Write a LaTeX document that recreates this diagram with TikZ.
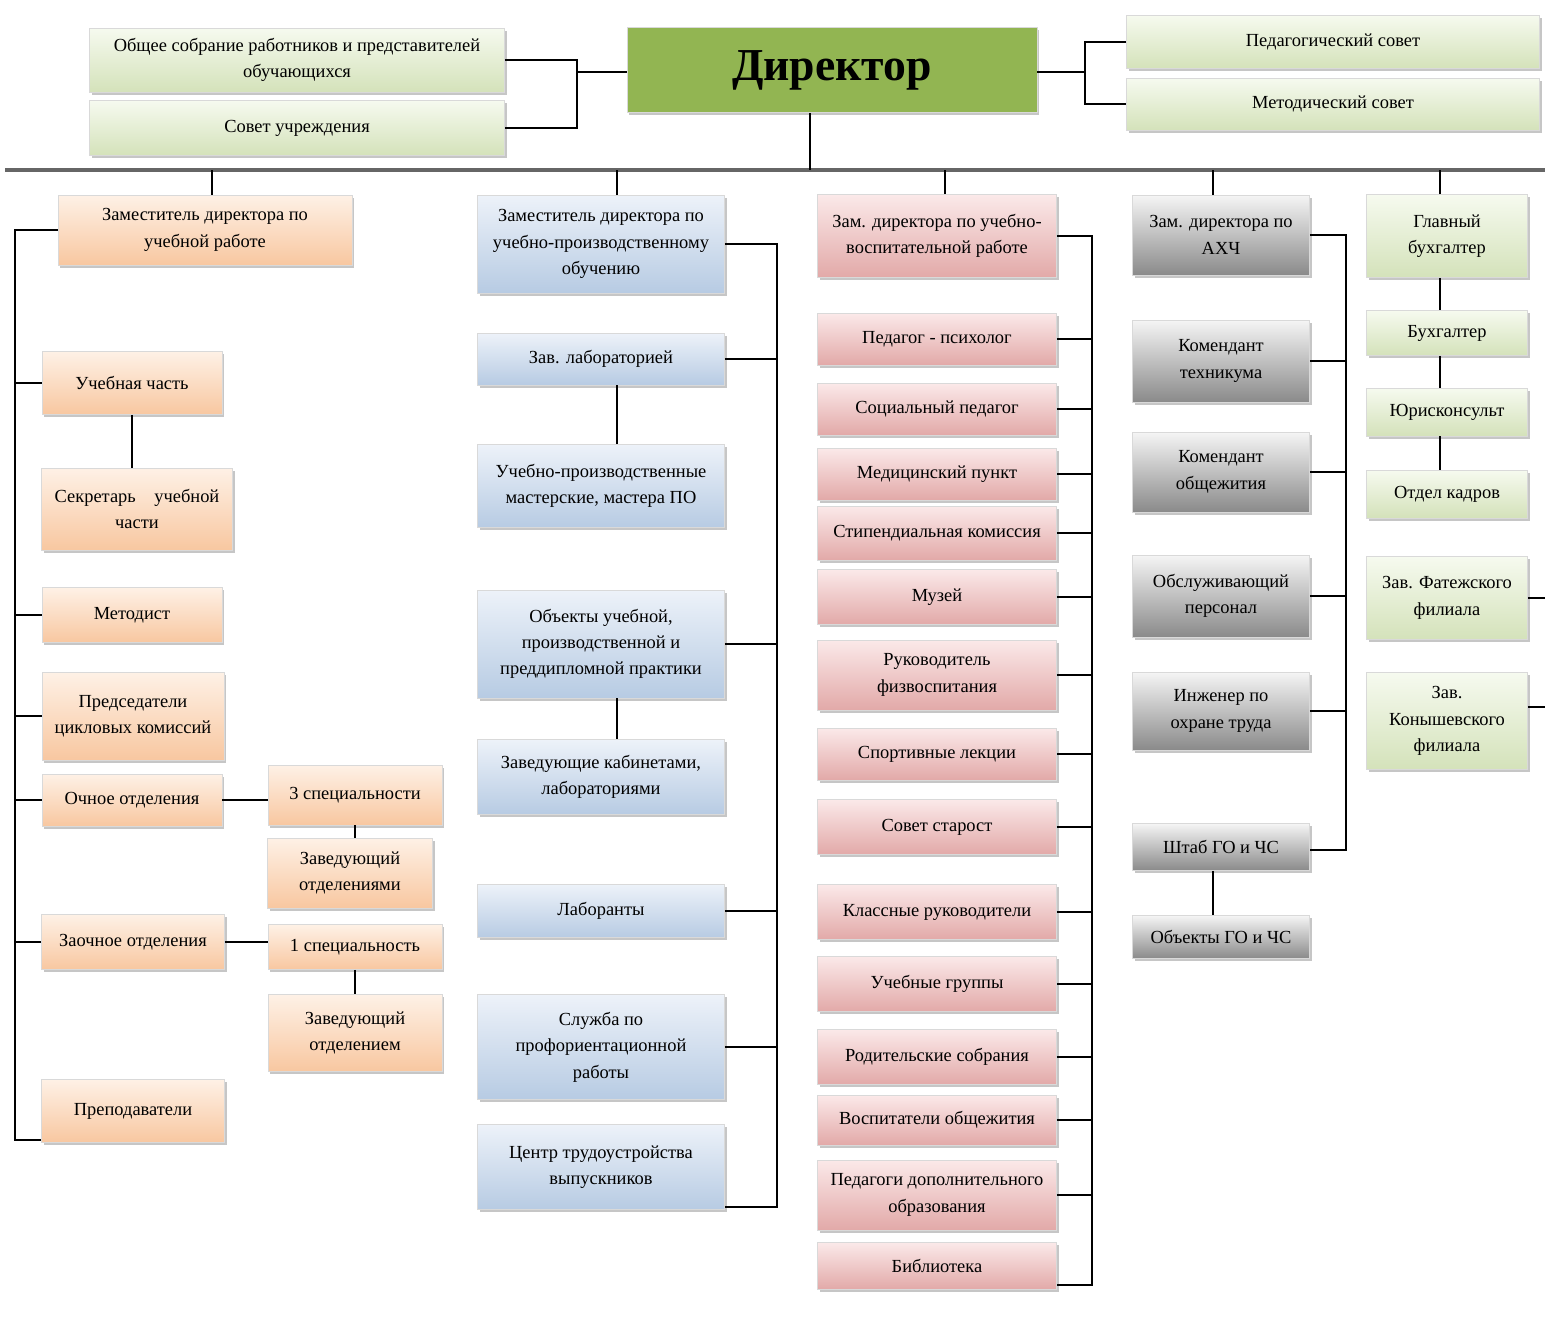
\documentclass[tikz,border=0pt]{standalone}
\usepackage{fontspec}
\setmainfont{Liberation Serif}
\usepackage{xcolor}
\usepackage{tikz}
\usetikzlibrary{shadows}

\definecolor{dirgreen}{HTML}{92B552}
\definecolor{grnT}{HTML}{F6FAEF}
\definecolor{grnB}{HTML}{D4E2BA}
\definecolor{oraT}{HTML}{FEF1E6}
\definecolor{oraB}{HTML}{F8C7A0}
\definecolor{bluT}{HTML}{EDF2F9}
\definecolor{bluB}{HTML}{B7CBE3}
\definecolor{pnkT}{HTML}{FBE9E9}
\definecolor{pnkB}{HTML}{E2A9A8}
\definecolor{gryT}{HTML}{F5F5F5}
\definecolor{gryB}{HTML}{8A8A8A}

\tikzset{
	box/.style={rectangle, draw=black!15, align=center, inner sep=2pt,
		font=\fontsize{10.5}{15}\selectfont,
		drop shadow={shadow xshift=1.2pt, shadow yshift=-1.5pt, opacity=0.45}},
	grn/.style={box, top color=grnT, bottom color=grnB},
	ora/.style={box, top color=oraT, bottom color=oraB, minimum width=3.6cm},
	blu/.style={box, top color=bluT, bottom color=bluB, minimum width=4.94cm},
	pnk/.style={box, top color=pnkT, bottom color=pnkB, minimum width=4.78cm},
	gry/.style={box, top color=gryT, bottom color=gryB, minimum width=3.54cm},
	conn/.style={draw=black, line width=0.9pt},
	busline/.style={draw=black!60, line width=2.2pt}
}

\begin{document}
\begin{tikzpicture}[x=0.02cm, y=-0.02cm]
				\useasboundingbox (0,0) rectangle (1545,1331);
				
				%Top row
				\node[grn, minimum width=8.3cm, minimum height=1.28cm] (obs) at (297,60) {Общее собрание работников и представителей\\обучающихся};
				\node[grn, minimum width=8.3cm, minimum height=1.1cm] (sov) at (297,128) {Совет учреждения};
				\node[box, fill=dirgreen, minimum width=8.2cm, minimum height=1.7cm, font=\fontsize{26}{30}\selectfont\bfseries] (dir) at (832,70) {Директор};
				\node[grn, minimum width=8.26cm, minimum height=1.06cm] (ped) at (1333,42) {Педагогический совет};
				\node[grn, minimum width=8.26cm, minimum height=1.04cm] (met) at (1333,104) {Методический совет};
				
				%Brackets
				\coordinate (lbr) at (577,72);
				\coordinate (rbr) at (1085,72);
				\draw[conn] (obs.east) -| (lbr) |- (sov.east);
				\draw[conn] (lbr) -- (lbr -| dir.west);
				\draw[conn] (rbr -| dir.east) -- (rbr);
				\draw[conn] (ped.west) -| (rbr) |- (met.west);
				
				%Bus
				\coordinate (busL) at (5,170);
				\coordinate (busR) at (1545,170);
				\draw[busline] (busL) -- (busR);
				\draw[conn] ([xshift=-0.44cm]dir.south) -- ([xshift=-0.44cm]dir.south |- busL);
				
				%Column 1
				\node[ora, minimum width=5.88cm, minimum height=1.4cm] (zur) at (205,230) {Заместитель директора по\\учебной работе};
				\node[ora, minimum height=1.26cm] (uch) at (132,383) {Учебная часть};
				\node[ora, minimum width=3.82cm, minimum height=1.64cm] (sek) at (137,509) {Секретарь\quad учебной\\части};
				\node[ora, minimum height=1.1cm] (mtd) at (132,615) {Методист};
				\node[ora, minimum width=3.64cm, minimum height=1.76cm] (pred) at (133,716) {Председатели\\цикловых комиссий};
				\node[ora, minimum height=1.04cm] (och) at (132,800) {Очное отделения};
				\node[ora, minimum width=3.48cm, minimum height=1.2cm] (sp3) at (355,795) {3 специальности};
				\node[ora, minimum width=3.3cm, minimum height=1.4cm] (zo1) at (350,873) {Заведующий\\отделениями};
				\node[ora, minimum width=3.66cm, minimum height=1.1cm] (zao) at (133,942) {Заочное отделения};
				\node[ora, minimum width=3.48cm, minimum height=0.9cm] (sp1) at (355,947) {1 специальность};
				\node[ora, minimum width=3.48cm, minimum height=1.54cm] (zo2) at (355,1033) {Заведующий\\отделением};
				\node[ora, minimum width=3.66cm, minimum height=1.26cm] (prep) at (133,1111) {Преподаватели};
				
				%Lines
				\coordinate (lt) at (15,222);
				\coordinate (lb) at (15,1140);
				\draw[conn] ([xshift=0.14cm]zur.north) -- ([xshift=0.14cm]zur.north |- busL);
				\draw[conn] (zur.west) -- (zur.west -| lt) -- (lb) -- (lb -| prep.west);
				\foreach \n in {uch,mtd,pred,och,zao}
					\draw[conn] (\n.west) -- (\n.west -| lt);
				\draw[conn] (uch.south) -- (uch.south |- sek.north);
				\draw[conn] (och.east) -- (och.east -| sp3.west);
				\draw[conn] (sp3.south) -- (sp3.south |- zo1.north);
				\draw[conn] (zao.east) -- (zao.east -| sp1.west);
				\draw[conn] (sp1.south) -- (sp1.south |- zo2.north);
				
				%Column 2
				\node[blu, minimum height=1.96cm] (zupo) at (601,244) {Заместитель директора по\\учебно-производственному\\обучению};
				\node[blu, minimum height=1.04cm] (zlab) at (601,359) {Зав. лабораторией};
				\node[blu, minimum height=1.66cm] (upm) at (601,486) {Учебно-производственные\\мастерские, мастера ПО};
				\node[blu, minimum height=2.16cm] (obj) at (601,644) {Объекты учебной,\\производственной и\\преддипломной практики};
				\node[blu, minimum height=1.5cm] (zkab) at (601,777) {Заведующие кабинетами,\\лабораториями};
				\node[blu, minimum height=1.06cm] (lab) at (601,911) {Лаборанты};
				\node[blu, minimum height=2.1cm] (sluz) at (601,1047) {Служба по\\профориентационной\\работы};
				\node[blu, minimum height=1.7cm] (cent) at (601,1167) {Центр трудоустройства\\выпускников};
				
				%Lines
				\coordinate (bt) at (777,244);
				\coordinate (bb) at (777,1207);
				\draw[conn] ([xshift=0.32cm]zupo.north) -- ([xshift=0.32cm]zupo.north |- busL);
				\draw[conn] (zupo.east) -- (bt) -- (bb) -- (bb -| cent.east);
				\foreach \n in {zlab,obj,lab,sluz}
					\draw[conn] (\n.east) -- (\n.east -| bt);
				\draw[conn] ([xshift=0.32cm]zlab.south) -- ([xshift=0.32cm]upm.north);
				\draw[conn] ([xshift=0.32cm]obj.south) -- ([xshift=0.32cm]zkab.north);
				
				%Column 3
				\node[pnk, minimum height=1.66cm] (zuvr) at (937,236) {Зам. директора по учебно-\\воспитательной работе};
				\node[pnk, minimum height=1.04cm] (psy) at (937,339) {Педагог - психолог};
				\node[pnk, minimum height=1.04cm] (soc) at (937,409) {Социальный педагог};
				\node[pnk, minimum height=1.04cm] (med) at (937,474) {Медицинский пункт};
				\node[pnk, minimum height=1.08cm] (stip) at (937,533) {Стипендиальная комиссия};
				\node[pnk, minimum height=1.1cm] (muz) at (937,597) {Музей};
				\node[pnk, minimum height=1.4cm] (fiz) at (937,675) {Руководитель\\физвоспитания};
				\node[pnk, minimum height=1.04cm] (spl) at (937,754) {Спортивные лекции};
				\node[pnk, minimum height=1.1cm] (sst) at (937,827) {Совет старост};
				\node[pnk, minimum height=1.1cm] (klr) at (937,912) {Классные руководители};
				\node[pnk, minimum height=1.1cm] (ugr) at (937,984) {Учебные группы};
				\node[pnk, minimum height=1.1cm] (rod) at (937,1057) {Родительские собрания};
				\node[pnk, minimum height=1.0cm] (vos) at (937,1120) {Воспитатели общежития};
				\node[pnk, minimum height=1.4cm] (pdo) at (937,1195) {Педагоги дополнительного\\образования};
				\node[pnk, minimum height=0.94cm] (bib) at (937,1266) {Библиотека};
				
				%Lines
				\coordinate (pt) at (1092,236);
				\coordinate (pb) at (1092,1285);
				\draw[conn] ([xshift=0.16cm]zuvr.north) -- ([xshift=0.16cm]zuvr.north |- busL);
				\draw[conn] (zuvr.east) -- (pt) -- (pb) -- (pb -| bib.east);
				\foreach \n in {psy,soc,med,stip,muz,fiz,spl,sst,klr,ugr,rod,vos,pdo}
					\draw[conn] (\n.east) -- (\n.east -| pt);
				
				%Column 4
				\node[gry, minimum height=1.6cm] (ahch) at (1221,235) {Зам. директора по\\АХЧ};
				\node[gry, minimum height=1.64cm] (kt) at (1221,361) {Комендант\\техникума};
				\node[gry, minimum height=1.6cm] (ko) at (1221,472) {Комендант\\общежития};
				\node[gry, minimum height=1.64cm] (osp) at (1221,596) {Обслуживающий\\персонал};
				\node[gry, minimum height=1.56cm] (ing) at (1221,711) {Инженер по\\охране труда};
				\node[gry, minimum height=0.94cm] (shtab) at (1221,847) {Штаб ГО и ЧС};
				\node[gry, minimum height=0.86cm] (obgo) at (1221,937) {Объекты ГО и ЧС};
				
				%Lines
				\coordinate (gt) at (1346,235);
				\coordinate (gbt) at (1346,850);
				\draw[conn] ([xshift=-0.16cm]ahch.north) -- ([xshift=-0.16cm]ahch.north |- busL);
				\draw[conn] (ahch.east) -- (gt) -- (gbt) -- (gbt -| shtab.east);
				\foreach \n in {kt,ko,osp,ing}
					\draw[conn] (\n.east) -- (\n.east -| gt);
				\draw[conn] ([xshift=-0.16cm]shtab.south) -- ([xshift=-0.16cm]obgo.north);
				
				%Column 5
				\node[grn, minimum width=3.22cm, minimum height=1.66cm] (glb) at (1447,236) {Главный\\бухгалтер};
				\node[grn, minimum width=3.22cm, minimum height=0.9cm] (bux) at (1447,333) {Бухгалтер};
				\node[grn, minimum width=3.22cm, minimum height=0.96cm] (yur) at (1447,412) {Юрисконсульт};
				\node[grn, minimum width=3.22cm, minimum height=0.96cm] (okad) at (1447,494) {Отдел кадров};
				\node[grn, minimum width=3.22cm, minimum height=1.66cm] (fat) at (1447,598) {Зав. Фатежского\\филиала};
				\node[grn, minimum width=3.22cm, minimum height=1.94cm] (kon) at (1447,721) {Зав.\\Конышевского\\филиала};
				
				%Lines
				\coordinate (redge) at (1545,0);
				\draw[conn] ([xshift=-0.14cm]glb.north) -- ([xshift=-0.14cm]glb.north |- busL);
				\draw[conn] ([xshift=-0.14cm]glb.south) -- ([xshift=-0.14cm]bux.north);
				\draw[conn] ([xshift=-0.14cm]bux.south) -- ([xshift=-0.14cm]yur.north);
				\draw[conn] ([xshift=-0.14cm]yur.south) -- ([xshift=-0.14cm]okad.north);
				\draw[conn] (fat.east) -- (fat.east -| redge);
				\draw[conn] ([yshift=0.28cm]kon.east) -- ([yshift=0.28cm]kon.east -| redge);
			\end{tikzpicture}
\end{document}
